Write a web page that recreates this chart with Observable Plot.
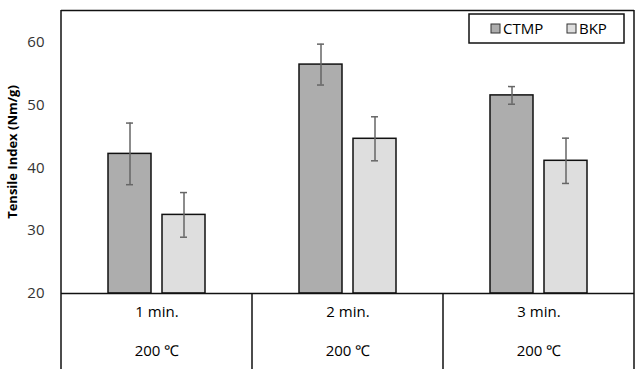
<!DOCTYPE html>
<html><head><meta charset="utf-8">
<script src="https://cdn.jsdelivr.net/npm/d3@7"></script>
<script src="https://cdn.jsdelivr.net/npm/@observablehq/plot@0.6"></script>
<style>body{margin:0;background:#fff}</style>
</head><body><div id="chart"></div>
<script>
const categories = ["1 min.", "2 min.", "3 min."];
const temperatures = ["200 ℃", "200 ℃", "200 ℃"];
const series = ["CTMP", "BKP"];
const ctmpValues = [42.2, 56.4, 51.5];
const ctmpErrors = [4.9, 3.25, 1.4];
const bkpValues = [32.5, 44.6, 41.1];
const bkpErrors = [3.55, 3.5, 3.6];
const yTicks = [20, 30, 40, 50, 60];
const yLabel = "Tensile Index (Nm/g)";
const seriesColors = ["#adadad", "#dedede"];

(function () {
const rows = [];
categories.forEach((c, i) => {
  rows.push({cat: c, series: series[0], value: ctmpValues[i], err: ctmpErrors[i]});
  rows.push({cat: c, series: series[1], value: bkpValues[i], err: bkpErrors[i]});
});
const yDomain = [20, 65];
const font = "'Open Sans', sans-serif";
const lineColor = "#111";
const fs = 15;

const plot = Plot.plot({
  width: 639, height: 373,
  marginLeft: 61, marginRight: 5, marginTop: 10, marginBottom: 80,
  style: {fontFamily: font, fontSize: fs + "px", color: "#000", background: "#fff"},
  fx: {domain: categories, padding: 0, axis: null, label: null},
  x: {domain: series, paddingInner: 0.204, paddingOuter: 0.87, axis: null},
  y: {domain: yDomain},
  color: {domain: series, range: seriesColors},
  marks: [
    Plot.axisY({ticks: yTicks, tickSize: 0, tickPadding: 17, fontSize: fs, label: null, fill: "#333"}),
    Plot.axisY({ticks: [], label: yLabel, labelAnchor: "center", labelArrow: "none", labelOffset: 54, fontWeight: "bold", fontSize: 13, fill: "#000"}),
    Plot.ruleY([yDomain[1]], {stroke: lineColor, strokeWidth: 1.5}),
    Plot.barY(rows, {fx: "cat", x: "series", y1: () => yDomain[0], y2: "value", fill: "series", stroke: lineColor, strokeWidth: 1.5}),
    Plot.ruleX(rows, {fx: "cat", x: "series", y1: d => d.value - d.err, y2: d => d.value + d.err, stroke: "#666", strokeWidth: 1.5}),
    Plot.tickY(rows, {fx: "cat", x: "series", y: d => d.value - d.err, insetLeft: 18, insetRight: 18, stroke: "#666", strokeWidth: 1.5}),
    Plot.tickY(rows, {fx: "cat", x: "series", y: d => d.value + d.err, insetLeft: 18, insetRight: 18, stroke: "#666", strokeWidth: 1.5}),
    Plot.ruleY([yDomain[0]], {stroke: lineColor, strokeWidth: 1.5}),
    Plot.text(categories, {fx: d => d, text: d => d, frameAnchor: "bottom", dy: 23, fontSize: fs, fill: "#000"}),
    Plot.text(categories, {fx: d => d, text: (d, i) => temperatures[i], frameAnchor: "bottom", dy: 62, fontSize: fs, fill: "#000"})
  ]
});
document.getElementById("chart").appendChild(plot);

const svg = d3.select(plot.tagName.toLowerCase() === "svg" ? plot : plot.querySelector("svg"));
const fx = plot.scale("fx");
const ys = plot.scale("y");
const yTop = ys.apply(yDomain[1]);
const yBase = ys.apply(yDomain[0]);
const bottomEnd = 369;
const xLeft = fx.apply(categories[0]);
const xRight = fx.apply(categories[categories.length - 1]) + fx.bandwidth;
const g = svg.append("g").attr("stroke", lineColor).attr("stroke-width", 1.5);
[xLeft, xRight].forEach(x => g.append("line").attr("x1", x).attr("x2", x).attr("y1", yTop).attr("y2", bottomEnd));
categories.slice(1).forEach(c => {
  const x = fx.apply(c);
  g.append("line").attr("x1", x).attr("x2", x).attr("y1", yBase).attr("y2", bottomEnd);
});

const color = plot.scale("color");
const lg = svg.append("g").attr("font-family", font).attr("font-size", fs).attr("text-anchor", "start");
lg.append("rect").attr("x", 469).attr("y", 14).attr("width", 155).attr("height", 29)
  .attr("fill", "#fff").attr("stroke", lineColor).attr("stroke-width", 1.5);
const legendX = [491, 567];
series.forEach((s, i) => {
  lg.append("rect").attr("x", legendX[i]).attr("y", 24).attr("width", 9).attr("height", 9)
    .attr("fill", color.apply(s)).attr("stroke", "#333").attr("stroke-width", 1);
  lg.append("text").attr("x", legendX[i] + 12).attr("y", 28.5).attr("dy", "0.35em").attr("fill", "#000").text(s);
});
})();
</script>
</body></html>
